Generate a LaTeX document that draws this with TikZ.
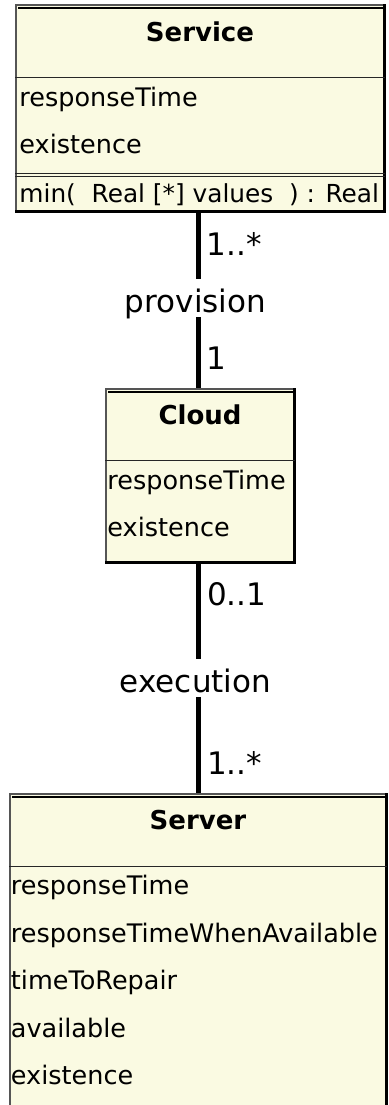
\documentclass[tikz,border=0pt]{standalone}
\usepackage{fontspec}
\setmainfont{DejaVu Sans}
\usetikzlibrary{positioning}

\definecolor{classfill}{RGB}{250,250,226}
\definecolor{framegray}{RGB}{85,85,85}

\tikzstyle{classbox} = [
    rectangle,
    draw=framegray,
    line width=1.5pt,
    fill=classfill,
    inner sep=0pt
]
\tikzstyle{shadowedge} = [black, line width=3pt]
\tikzstyle{topedge} = [black, line width=1.6pt]
\tikzstyle{separator} = [black!85, line width=1.3pt]
\tikzstyle{classtitle} = [
    font=\fontsize{26}{31}\selectfont\bfseries,
    anchor=base,
    inner sep=0pt
]
\tikzstyle{attribute} = [
    font=\fontsize{25.5}{30}\selectfont,
    anchor=base west,
    inner sep=0pt
]
\tikzstyle{operation} = [
    font=\fontsize{24.8}{30}\selectfont,
    anchor=base west,
    inner sep=0pt
]
\tikzstyle{association} = [black, line width=5.5pt]
\tikzstyle{assoclabel} = [
    font=\fontsize{31}{37}\selectfont,
    fill=white,
    inner xsep=2pt,
    inner ysep=0pt,
    text height=33pt,
    text depth=5pt,
    xshift=-3pt
]
\tikzstyle{multiplicity} = [
    font=\fontsize{31}{37}\selectfont,
    anchor=base west,
    inner sep=0pt
]

\begin{document}
\begin{tikzpicture}[x=1pt, y=1pt, node distance=0pt]

\useasboundingbox (0,0) rectangle (388,-1105);
\clip (0,0) rectangle (388,-1105);

% classes
\node (service) [classbox, minimum width=368pt, minimum height=206pt] at (200,-108) {};

\node (cloud) [classbox, minimum width=188pt, minimum height=173pt,
    below of=service, yshift=-367.5pt] {};

\node (server) [classbox, minimum width=376pt, minimum height=330pt,
    below of=cloud, xshift=-2pt, yshift=-483.5pt] {};

\draw [shadowedge] (service.north east) -- (service.south east) -- (service.south west);
\draw [shadowedge] (cloud.north east) -- (cloud.south east) -- (cloud.south west);
\draw [shadowedge] (server.north east) -- (server.south east) -- (server.south west);

\draw [topedge] ([shift={(3pt,-4pt)}]service.north west) -- ([yshift=-4pt]service.north east);
\draw [topedge] ([shift={(3pt,-4pt)}]cloud.north west) -- ([yshift=-4pt]cloud.north east);
\draw [topedge] ([shift={(3pt,-4pt)}]server.north west) -- ([yshift=-4pt]server.north east);

% Service
\node (service-title) [classtitle] at ([yshift=-37pt]service.north) {Service};
\draw [separator] ([yshift=-73pt]service.north west) -- ([yshift=-73pt]service.north east);
\node (service-rt) [attribute] at ([shift={(4pt,-102pt)}]service.north west) {responseTime};
\node (service-ex) [attribute] at ([shift={(4pt,-149pt)}]service.north west) {existence};
\draw [separator] ([yshift=-169pt]service.north west) -- ([yshift=-169pt]service.north east);
\draw [separator] ([yshift=-172pt]service.north west) -- ([yshift=-172pt]service.north east);
\node (service-min) [operation] at ([shift={(4pt,-198pt)}]service.north west)
{min(\ \ Real [*] values\ \ ) : Real};

% Cloud
\node (cloud-title) [classtitle] at ([yshift=-36pt]cloud.north) {Cloud};
\draw [separator] ([yshift=-72pt]cloud.north west) -- ([yshift=-72pt]cloud.north east);
\node (cloud-rt) [attribute] at ([shift={(2pt,-101pt)}]cloud.north west) {responseTime};
\node (cloud-ex) [attribute] at ([shift={(2pt,-148pt)}]cloud.north west) {existence};

% Server
\node (server-title) [classtitle] at ([yshift=-36pt]server.north) {Server};
\draw [separator] ([yshift=-73pt]server.north west) -- ([yshift=-73pt]server.north east);
\node (server-rt) [attribute] at ([shift={(1.5pt,-101pt)}]server.north west) {responseTime};
\node (server-rtwa) [attribute] at ([shift={(1.5pt,-149pt)}]server.north west) {responseTimeWhenAvailable};
\node (server-ttr) [attribute] at ([shift={(1.5pt,-196pt)}]server.north west) {timeToRepair};
\node (server-av) [attribute] at ([shift={(1.5pt,-244pt)}]server.north west) {available};
\node (server-ex) [attribute] at ([shift={(1.5pt,-291pt)}]server.north west) {existence};

% associations
\draw [association] ([xshift=-1.5pt]service.south) --
    node[assoclabel, pos=0.49]{provision} ([xshift=-1.5pt]cloud.north);
\draw [association] ([xshift=-1.5pt]cloud.south) --
    node[assoclabel]{execution} ([xshift=0.5pt]server.north);

\node (provision-service) [multiplicity] at ([shift={(6.5pt,-44pt)}]service.south) {1..*};
\node (provision-cloud) [multiplicity] at ([shift={(6.5pt,19pt)}]cloud.north) {1};
\node (execution-cloud) [multiplicity] at ([shift={(7pt,-43pt)}]cloud.south) {0..1};
\node (execution-server) [multiplicity] at ([shift={(9pt,19pt)}]server.north) {1..*};

\end{tikzpicture}
\end{document}
